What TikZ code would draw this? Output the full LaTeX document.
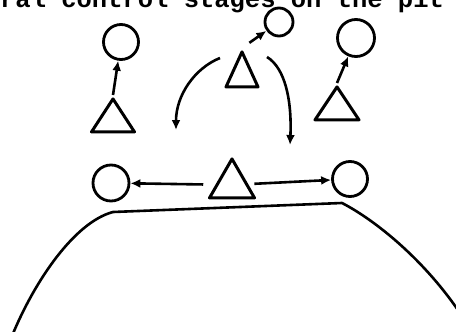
\documentclass[tikz,border=0pt]{standalone}
\usepackage{fontspec}
\setmonofont{Liberation Mono}
\usetikzlibrary{arrows.meta,shapes.geometric,calc}

\begin{document}
\begin{tikzpicture}[x=1pt,y=-1pt,>={Latex[length=10pt,width=9pt]},line join=round,
  piece/.style={draw,line width=3pt,isosceles triangle,isosceles triangle stretches,shape border rotate=90,inner sep=0pt,anchor=apex},
  ring/.style={draw,line width=2.8pt,circle,inner sep=0pt,minimum size=#1},
  arr/.style={->,line width=2.6pt}]
  \useasboundingbox (0,0) rectangle (456,332);
  \clip (0,0) rectangle (456,332);
  % cut-off line of the page above
  \node[anchor=base west,inner sep=0pt,font=\ttfamily\bfseries\fontsize{25.5}{30}\selectfont] (caption) at (0,7) {ral control stages on the pit};
  % pieces
  \node[piece,minimum width=32pt,minimum height=35pt] (tt) at (242,48) {};
  \node[piece,minimum width=43pt,minimum height=33pt] (lt) at (113,95) {};
  \node[piece,minimum width=44pt,minimum height=33pt] (rt) at (337,83) {};
  \node[piece,minimum width=45pt,minimum height=39pt] (bt) at (232,155) {};
  % targets
  \node[ring=28pt] (ct) at (279,22) {};
  \node[ring=35pt] (cl) at (121,42) {};
  \node[ring=37pt] (cr) at (356,38) {};
  \node[ring=36pt] (bl) at (111,183) {};
  \node[ring=35pt] (br) at (350,179) {};
  \coordinate (tl) at ($(tt.apex)+(-22,10)$);
  \coordinate (tr) at ($(tt.apex)+(25,9)$);
  \coordinate (dl) at (176,130);
  \coordinate (dr) at (290,145);
  % moves
  \draw[arr] (lt.apex) -- (cl);
  \draw[arr] (rt.apex) -- (cr);
  \draw[arr,shorten <=9pt] (tt.apex) -- (ct);
  \draw[arr] (tl) .. controls (195,68) and (176,95) .. (dl);
  \draw[arr] (tr) .. controls (285,68) and (292,100) .. (dr);
  \draw[arr,shorten <=12pt] (bt) -- (bl);
  \draw[arr,shorten <=6pt] (bt) -- (br);
  % pit edge
  \draw[line width=2.6pt] (12,336) .. controls (35,280) and (75,222) .. (113,212) -- (342,203) .. controls (375,220) and (425,260) .. (462,316);
\end{tikzpicture}
\end{document}
